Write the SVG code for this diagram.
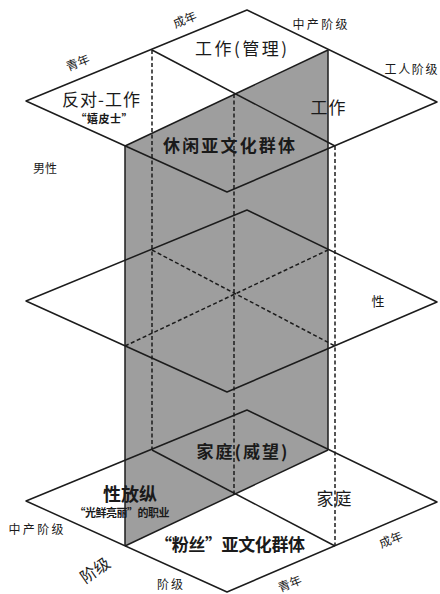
<svg xmlns="http://www.w3.org/2000/svg" width="440" height="594" viewBox="0 0 440 594">
<defs>
<style>
.s{fill:none;stroke:#1c1c1c;stroke-width:1.5;stroke-linejoin:round}
.d{fill:none;stroke:#1c1c1c;stroke-width:1.5;stroke-dasharray:4 2.5}
text{font-family:"Noto Sans CJK SC","Noto Sans",sans-serif;fill:#1a1a1a;text-anchor:middle}
.big{font-size:17px}
.bb{font-size:17px;font-weight:bold}
.sm{font-size:12px}
.xs{font-size:11px;font-weight:bold}
</style>
</defs>
<rect width="440" height="594" fill="#fff"/>
<g id="shaded-plane">
<polygon points="125,146 328,50 328,450 125,546" fill="#9e9e9e"/>
</g>
<g id="connectors">
<polygon class="s" points="26,101 247,10 437,102 227,192"/>
<line class="s" x1="152" y1="50" x2="335" y2="146"/>
<line class="s" x1="125" y1="146" x2="328" y2="50"/>
<polygon class="s" points="26,301 247,210 437,302 227,392"/>
<line class="d" x1="152" y1="250" x2="335" y2="346"/>
<line class="d" x1="125" y1="346" x2="328" y2="250"/>
<polygon class="s" points="26,501 247,410 437,502 227,592"/>
<line class="s" x1="152" y1="450" x2="335" y2="546"/>
<line class="s" x1="125" y1="546" x2="328" y2="450"/>
<line class="s" x1="125" y1="146" x2="125" y2="546"/>
<line class="s" x1="328" y1="50" x2="328" y2="450"/>
<line class="d" x1="152" y1="50" x2="152" y2="450"/>
<line class="d" x1="234" y1="94" x2="234" y2="494"/>
<line class="d" x1="335" y1="146" x2="335" y2="546"/>
</g>
<g id="axis-labels">
<text class="sm" transform="translate(185,20) rotate(-22)" y="4">成年</text>
<text class="sm" transform="translate(78,63) rotate(-22)" y="4">青年</text>
<text class="sm" x="320" y="29" textLength="55">中产阶级</text>
<text class="sm" x="411" y="74" textLength="53">工人阶级</text>
<text class="sm" x="45" y="173" textLength="24">男性</text>
<text style="font-size:13px" x="378" y="306">性</text>
<text class="sm" x="36" y="534" textLength="55">中产阶级</text>
<text style="font-size:16px" transform="translate(95,570) rotate(-35)" y="6">阶级</text>
<text class="sm" x="170" y="589" textLength="26">阶级</text>
<text class="sm" transform="translate(391,540) rotate(-22)" y="4">成年</text>
<text class="sm" transform="translate(290,584) rotate(-22)" y="4">青年</text>
</g>
<g id="node-work-management"><text class="big" x="241" y="55" textLength="92">工作(管理)</text></g>
<g id="node-anti-work"><text class="big" x="101" y="106" textLength="78">反对-工作</text><text class="xs" x="104" y="123" textLength="57">“嬉皮士”</text></g>
<g id="node-leisure"><text class="bb" x="229" y="152" textLength="132">休闲亚文化群体</text></g>
<g id="node-work"><text class="big" x="328" y="114" textLength="35">工作</text></g>
<g id="node-family-prestige"><text class="bb" x="242" y="458" textLength="91">家庭(威望)</text></g>
<g id="node-hedonism"><text class="bb" style="font-size:18px" x="130" y="501" textLength="54">性放纵</text><text class="xs" x="122" y="517" textLength="95">“光鲜亮丽”的职业</text></g>
<g id="node-fans"><text class="bb" x="230" y="551" textLength="150">“粉丝”亚文化群体</text></g>
<g id="node-family"><text class="big" x="334" y="505" textLength="35">家庭</text></g>
</svg>
